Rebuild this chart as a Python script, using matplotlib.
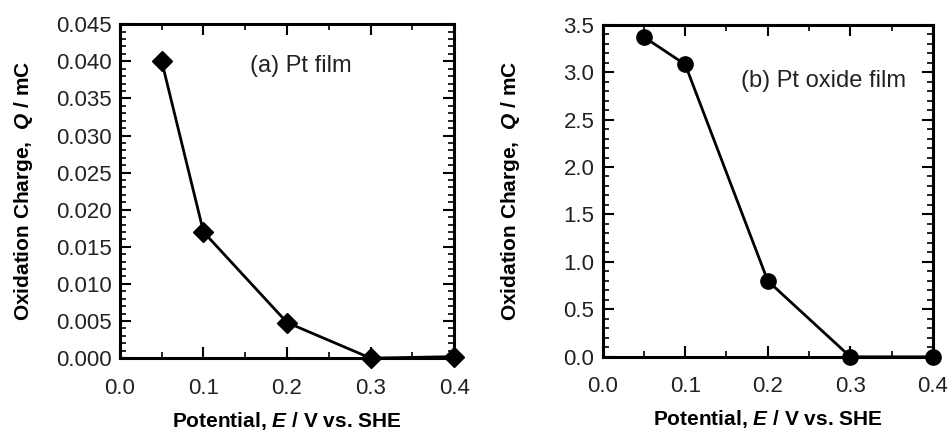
import matplotlib
matplotlib.use("Agg")
import matplotlib.pyplot as plt
from matplotlib.ticker import MultipleLocator, FormatStrFormatter

plt.rcParams['font.family'] = 'Liberation Sans'
plt.rcParams['mathtext.fontset'] = 'custom'
plt.rcParams['mathtext.it'] = 'Liberation Sans:italic:bold'
plt.rcParams['mathtext.rm'] = 'Liberation Sans:bold'

# data
potential = [0.05, 0.1, 0.2, 0.3, 0.4]
q_pt_film = [0.0400, 0.0170, 0.0048, 0.0000, 0.0002]
q_pt_oxide = [3.37, 3.08, 0.80, 0.00, 0.00]

fig = plt.figure(figsize=(9.52, 4.32), dpi=100)
ax1 = fig.add_axes([0.126, 0.171, 0.351, 0.773])
ax2 = fig.add_axes([0.633, 0.174, 0.347, 0.769])


def style(ax, ymax, ymajor, yminor, yfmt, ypad):
    ax.set_xlim(0, 0.4)
    ax.set_ylim(0, ymax)
    ax.xaxis.set_major_locator(MultipleLocator(0.1))
    ax.xaxis.set_minor_locator(MultipleLocator(0.05))
    ax.yaxis.set_major_locator(MultipleLocator(ymajor))
    ax.yaxis.set_minor_locator(MultipleLocator(yminor))
    ax.xaxis.set_major_formatter(FormatStrFormatter('%.1f'))
    ax.yaxis.set_major_formatter(FormatStrFormatter(yfmt))
    ax.tick_params(which='both', direction='in', top=True, right=True,
                   labelsize=16, colors='black', labelcolor='#222222')
    ax.tick_params(which='major', length=8, width=1.5)
    ax.tick_params(which='minor', length=4, width=1.2)
    ax.tick_params(axis='x', which='major', pad=14)
    ax.tick_params(axis='y', which='major', pad=6)
    for s in ax.spines.values():
        s.set_linewidth(2.2)
    ax.set_xlabel('Potential, $E$ / V vs. SHE', fontsize=15, fontweight='bold',
                  labelpad=8)
    ax.set_ylabel('Oxidation Charge,  $Q$ / mC', fontsize=15, fontweight='bold',
                  labelpad=ypad)


ax1.plot(potential, q_pt_film, color='black', lw=2, marker='D', ms=10,
         clip_on=False, zorder=5)
style(ax1, 0.045, 0.005, 0.001, '%.3f', 15)
ax1.text(0.39, 0.875, '(a) Pt film', transform=ax1.transAxes, fontsize=17,
         va='center', color='#222222')

ax2.plot(potential, q_pt_oxide, color='black', lw=2, marker='o', ms=11,
         clip_on=False, zorder=5)
style(ax2, 3.5, 0.5, 0.1, '%.1f', 30)
ax2.text(0.42, 0.83, '(b) Pt oxide film', transform=ax2.transAxes,
         fontsize=17, va='center', color='#222222')

fig.savefig('out.png', dpi=100)
